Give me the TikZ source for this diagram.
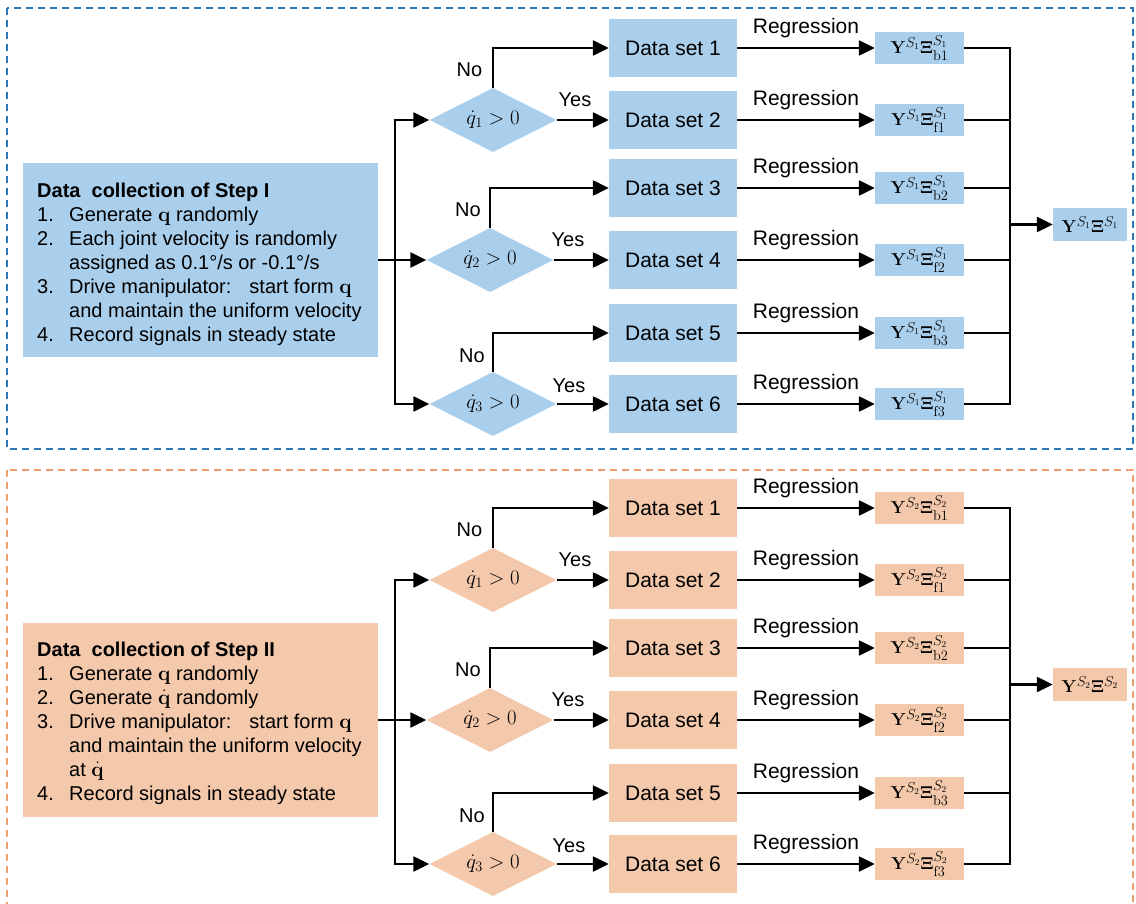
\documentclass[tikz,border=0pt]{standalone}
\usepackage{amsmath,bm}
\usepackage[no-math]{fontspec}
\setmainfont{Liberation Sans}
\usetikzlibrary{arrows.meta,shapes.geometric}
\definecolor{bfill}{RGB}{170,207,236}
\definecolor{ofill}{RGB}{244,200,171}
\definecolor{bframe}{RGB}{46,117,182}
\definecolor{oframe}{RGB}{240,160,110}
\tikzset{
  line/.style={line width=2.4pt, draw=black},
  arr/.style={line width=2.4pt, draw=black, -{Triangle[length=16pt,width=15pt]}},
  dsbox/.style={rectangle, inner sep=0pt, minimum width=128pt, minimum height=58pt, font=\fontsize{21}{25}\selectfont},
  ybox/.style={rectangle, inner sep=0pt, minimum width=89pt, minimum height=32pt, font=\fontsize{19}{22}\selectfont},
  finbox/.style={rectangle, inner sep=0pt, minimum width=74pt, minimum height=33pt, font=\fontsize{19}{22}\selectfont},
  dec/.style={diamond, aspect=2, inner sep=0pt, minimum width=127pt, minimum height=64pt, font=\fontsize{20}{24}\selectfont},
  lbl/.style={inner sep=0pt, font=\fontsize{20}{24}\selectfont},
  reglbl/.style={inner sep=0pt, font=\fontsize{21}{25}\selectfont},
  frame/.style={line width=2pt, dash pattern=on 7pt off 5pt},
  infobox/.style={rectangle, inner sep=0pt, minimum width=355pt, minimum height=194pt},
  infotext/.style={anchor=north west, inner sep=0pt, align=left, font=\fontsize{20}{24}\selectfont}
}
\newcommand{\flowpart}[4]{%
  \foreach \i/\yy in {1/48,2/120,3/188,4/260,5/333,6/404}{
    \node[dsbox, fill=#3] (#1ds\i) at (673,{\yy+#2}) {Data set \i};
  }
  \foreach \i/\yy/\s in {1/48/b1,2/120/f1,3/188/b2,4/260/f2,5/333/b3,6/404/f3}{
    \node[ybox, fill=#3] (#1y\i) at (919.5,{\yy+#2}) {$\mathbf{Y}^{S_{#4}}\boldsymbol{\Xi}^{S_{#4}}_{\mathrm{\s}}$};
    \draw[arr] (#1ds\i.east) -- (#1y\i.west) node[reglbl, midway, yshift=20pt] {Regression};
  }
  \node[dec, fill=#3] (#1d1) at (493,{120+#2}) {$\dot{q}_1>0$};
  \node[dec, fill=#3] (#1d2) at (490,{260+#2}) {$\dot{q}_2>0$};
  \node[dec, fill=#3] (#1d3) at (493,{404+#2}) {$\dot{q}_3>0$};
  \node[lbl] (#1no1) at (469.5,{70+#2}) {No};
  \node[lbl] (#1no2) at (468,{210+#2}) {No};
  \node[lbl] (#1no3) at (472,{356+#2}) {No};
  \node[lbl] (#1yes1) at (575,{100+#2}) {Yes};
  \node[lbl] (#1yes2) at (568,{240+#2}) {Yes};
  \node[lbl] (#1yes3) at (569,{386+#2}) {Yes};
  \draw[arr] (#1d1.north) |- (#1ds1.west);
  \draw[arr] (#1d2.north) |- (#1ds3.west);
  \draw[arr] (#1d3.north) |- (#1ds5.west);
  \draw[arr] (#1d1.east) -- (#1ds2.west);
  \draw[arr] (#1d2.east) -- (#1ds4.west);
  \draw[arr] (#1d3.east) -- (#1ds6.west);
  \coordinate (#1bus) at (395,{260+#2});
  \draw[arr] (#1bus) |- (#1d1.west);
  \draw[arr] (#1bus) |- (#1d3.west);
  \draw[arr] (#1box.east) -- (#1d2.west);
  \node[finbox, fill=#3] (#1fin) at (1090,{224.5+#2}) {$\mathbf{Y}^{S_{#4}}\boldsymbol{\Xi}^{S_{#4}}$};
  \coordinate (#1rb) at (1010,{224.5+#2});
  \draw[line] (#1y1.east) -| (#1rb);
  \draw[line] (#1y6.east) -| (#1rb);
  \foreach \i in {2,3,4,5}{
    \draw[line] (#1y\i.east) -- (#1y\i.east -| #1rb);
  }
  \draw[arr] (#1rb) -- (#1fin.west);
}
\begin{document}
\begin{tikzpicture}[x=1pt,y=-1pt]
\useasboundingbox (0,0) rectangle (1136,904);
\fill[white] (0,0) rectangle (1136,904);
\draw[frame, draw=bframe] (7,8) rectangle (1133,449);
\draw[frame, draw=oframe] (7,470) rectangle (1133,915);

\node[infobox, fill=bfill] (abox) at (200.5,260) {};
\node[infotext] (atext) at (37,180.2) {%
\begin{tabular}{@{}l@{}l@{}}
\multicolumn{2}{@{}l@{}}{\bfseries Data\ \ collection of Step I}\\
\makebox[32pt][l]{1.} & Generate $\mathbf{q}$ randomly\\
\makebox[32pt][l]{2.} & Each joint velocity is randomly\\
 & assigned as 0.1°/s or -0.1°/s\\
\makebox[32pt][l]{3.} & Drive manipulator:\hspace{18pt}start form $\mathbf{q}$\\
 & and maintain the uniform velocity\\
\makebox[32pt][l]{4.} & Record signals in steady state
\end{tabular}};

\node[infobox, fill=ofill] (bbox) at (200.5,720) {};
\node[infotext] (btext) at (37,639.2) {%
\begin{tabular}{@{}l@{}l@{}}
\multicolumn{2}{@{}l@{}}{\bfseries Data\ \ collection of Step II}\\
\makebox[32pt][l]{1.} & Generate $\mathbf{q}$ randomly\\
\makebox[32pt][l]{2.} & Generate $\dot{\mathbf{q}}$ randomly\\
\makebox[32pt][l]{3.} & Drive manipulator:\hspace{18pt}start form $\mathbf{q}$\\
 & and maintain the uniform velocity\\
 & at $\dot{\mathbf{q}}$\\
\makebox[32pt][l]{4.} & Record signals in steady state
\end{tabular}};

\flowpart{a}{0}{bfill}{1}
\flowpart{b}{460}{ofill}{2}
\end{tikzpicture}
\end{document}
